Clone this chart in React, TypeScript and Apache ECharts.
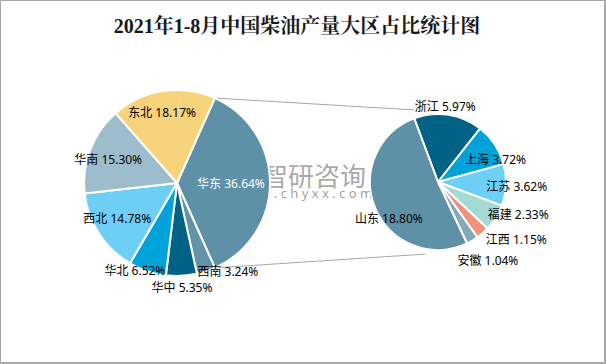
import { useEffect, useRef } from 'react';
import * as echarts from 'echarts';

// ---- data ----
const titleText = '2021年1-8月中国柴油产量大区占比统计图';
const regionNames = ['华东', '西南', '华中', '华北', '西北', '华南', '东北'];
const regionValues = [36.64, 3.24, 5.35, 6.52, 14.78, 15.3, 18.17];
const provinceNames = ['浙江', '上海', '江苏', '福建', '江西', '安徽', '山东'];
const provinceValues = [5.97, 3.72, 3.62, 2.33, 1.15, 1.04, 18.8];

// ---- styles ----
const regionColors = ['#5e91a8', '#6393a9', '#006385', '#00a3d9', '#6dcff6', '#9dbdcc', '#f7d37b'];
const provinceColors = ['#006385', '#00a3d9', '#6dcff6', '#a3dad6', '#f1937b', '#86a9b9', '#5e91a8'];
const regionLabelColors = ['#ffffff', '#000', '#000', '#000', '#000', '#000', '#000'];
// label placement: distance as fraction of radius, and angular shift (deg) from slice middle
const regionLabelDist = [0.58, 1.1, 1.12, 1.04, 0.75, 0.78, 0.78];
const regionLabelTurn = [0, -11.6, 0, 7.2, 2, -2.6, -3.2];
const provinceLabelDist = [1.11, 0.91, 1.16, 1.27, 1.43, 1.37, 0.9];
const provinceLabelTurn = [-3.3, 12, 1, -10, -12.5, -2, -13.7];

const C1 = [177, 183];
const R1 = 93;
const C2 = [438, 182];
const R2 = 68;
const START2 = 110.5; // echarts startAngle of the second pie

const FONT = "'Noto Sans', 'Noto Sans CJK SC', sans-serif";
const WM = 'rgba(110,110,110,0.6)';
const WM2 = 'rgba(90,90,90,0.6)';
const LOGO = 'rgba(135,175,205,0.55)';

function midAngles(values: number[], startCW: number): number[] {
  const total = values.reduce((a, b) => a + b, 0);
  const mids: number[] = [];
  let acc = startCW;
  for (const v of values) {
    const span = (v / total) * 360;
    mids.push(acc + span / 2);
    acc += span;
  }
  return mids;
}

function polar(c: number[], r: number, degCW: number) {
  const a = (degCW * Math.PI) / 180;
  return [c[0] + r * Math.sin(a), c[1] - r * Math.cos(a)];
}

export default function App() {
  const ref = useRef<HTMLDivElement>(null);

  useEffect(() => {
    if (!ref.current) return;
    const chart = echarts.init(ref.current, null, { renderer: 'svg' });

    const total1 = regionValues.reduce((a, b) => a + b, 0);
    const span0 = (regionValues[0] / total1) * 360;
    const start1 = span0 / 2; // first slice centred at 3 o'clock
    const start1CW = 90 - start1;
    const start2CW = 90 - START2;
    const mids1 = midAngles(regionValues, start1CW);
    const mids2 = midAngles(provinceValues, start2CW);

    const p1 = polar(C1, R1, start1CW);
    const p2 = polar(C1, R1, start1CW + span0);
    const q1 = [C2[0] - 0.35 * R2, C2[1] - 1.06 * R2];
    const q2 = [C2[0] - 0.19 * R2, C2[1] + 1.06 * R2];

    const mkLayout = (c: number[], r: number, mids: number[], dist: number[], turn: number[]) =>
      (params: any) => {
        const i = params.dataIndex;
        const p = polar(c, r * dist[i], mids[i] + turn[i]);
        return { x: p[0], y: p[1], align: 'center', verticalAlign: 'middle' };
      };

    const option: any = {
      animation: false,
      backgroundColor: '#ffffff',
      title: {
        text: titleText,
        left: 292,
        textAlign: 'center',
        top: 11,
        textStyle: {
          fontSize: 20,
          fontWeight: 'bold',
          color: '#1a1a1a',
          fontFamily: "'Liberation Serif', 'Noto Serif CJK SC', 'Noto Sans CJK SC', serif",
        },
      },
      graphic: [
        {
          type: 'rect',
          z: 200,
          silent: true,
          shape: { x: 0.5, y: 0.5, width: 604, height: 362 },
          style: { fill: 'none', stroke: '#a6a6a6', lineWidth: 1 },
        },
        {
          type: 'line',
          z: 200,
          silent: true,
          shape: { x1: 605.5, y1: 0, x2: 605.5, y2: 364 },
          style: { stroke: '#a6a6a6', lineWidth: 1 },
        },
        {
          type: 'line',
          z: 200,
          silent: true,
          shape: { x1: 0, y1: 363.5, x2: 606, y2: 363.5 },
          style: { stroke: '#a6a6a6', lineWidth: 1 },
        },
        {
          type: 'line',
          z: -1,
          silent: true,
          shape: { x1: p1[0], y1: p1[1], x2: q1[0], y2: q1[1] },
          style: { stroke: '#a6a6a6', lineWidth: 1 },
        },
        {
          type: 'line',
          z: -1,
          silent: true,
          shape: { x1: p2[0], y1: p2[1], x2: q2[0], y2: q2[1] },
          style: { stroke: '#a6a6a6', lineWidth: 1 },
        },
        {
          type: 'group',
          z: 100,
          silent: true,
          children: [
            { type: 'rect', shape: { x: 232.5, y: 164, width: 3.5, height: 17 }, style: { fill: LOGO } },
            { type: 'rect', shape: { x: 234.5, y: 165.5, width: 12.5, height: 8 }, style: { fill: 'none', stroke: LOGO, lineWidth: 3 } },
            { type: 'rect', shape: { x: 251, y: 163, width: 4, height: 4 }, style: { fill: LOGO } },
            { type: 'rect', shape: { x: 251, y: 169, width: 4, height: 12 }, style: { fill: LOGO } },
            {
              type: 'text',
              x: 262,
              y: 174,
              style: {
                text: '智研咨询',
                fill: WM,
                font: "26px 'Noto Sans CJK SC', sans-serif",
                textVerticalAlign: 'middle',
              },
            },
            {
              type: 'text',
              x: 233,
              y: 193,
              style: {
                text: 'w w w . c h y x x . c o m',
                fill: WM2,
                font: "13px 'Noto Sans', sans-serif",
                textVerticalAlign: 'middle',
              },
            },
          ],
        },
      ],
      series: [
        {
          type: 'pie',
          name: '大区',
          center: C1,
          radius: R1,
          startAngle: start1,
          clockwise: true,
          silent: true,
          avoidLabelOverlap: false,
          emphasis: { disabled: true },
          itemStyle: { borderColor: '#ffffff', borderWidth: 2 },
          label: {
            show: true,
            position: 'inside',
            fontSize: 12,
            fontFamily: FONT,
            formatter: (p: any) => `${p.name} ${Number(p.value).toFixed(2)}%`,
          },
          labelLine: { show: false },
          labelLayout: mkLayout(C1, R1, mids1, regionLabelDist, regionLabelTurn),
          data: regionNames.map((n, i) => ({
            name: n,
            value: regionValues[i],
            itemStyle: { color: regionColors[i] },
            label: { color: regionLabelColors[i] },
          })),
        },
        {
          type: 'pie',
          name: '华东',
          center: C2,
          radius: R2,
          startAngle: START2,
          clockwise: true,
          silent: true,
          avoidLabelOverlap: false,
          emphasis: { disabled: true },
          itemStyle: { borderColor: '#ffffff', borderWidth: 2 },
          label: {
            show: true,
            position: 'inside',
            fontSize: 12,
            color: '#000',
            fontFamily: FONT,
            formatter: (p: any) => `${p.name} ${Number(p.value).toFixed(2)}%`,
          },
          labelLine: { show: false },
          labelLayout: mkLayout(C2, R2, mids2, provinceLabelDist, provinceLabelTurn),
          data: provinceNames.map((n, i) => ({
            name: n,
            value: provinceValues[i],
            itemStyle: { color: provinceColors[i] },
          })),
        },
      ],
    };

    chart.setOption(option);
    return () => chart.dispose();
  }, []);

  return (
    <div
      ref={ref}
      style={{ position: 'fixed', left: 0, top: 0, width: 606, height: 364, background: '#fff' }}
    />
  );
}
